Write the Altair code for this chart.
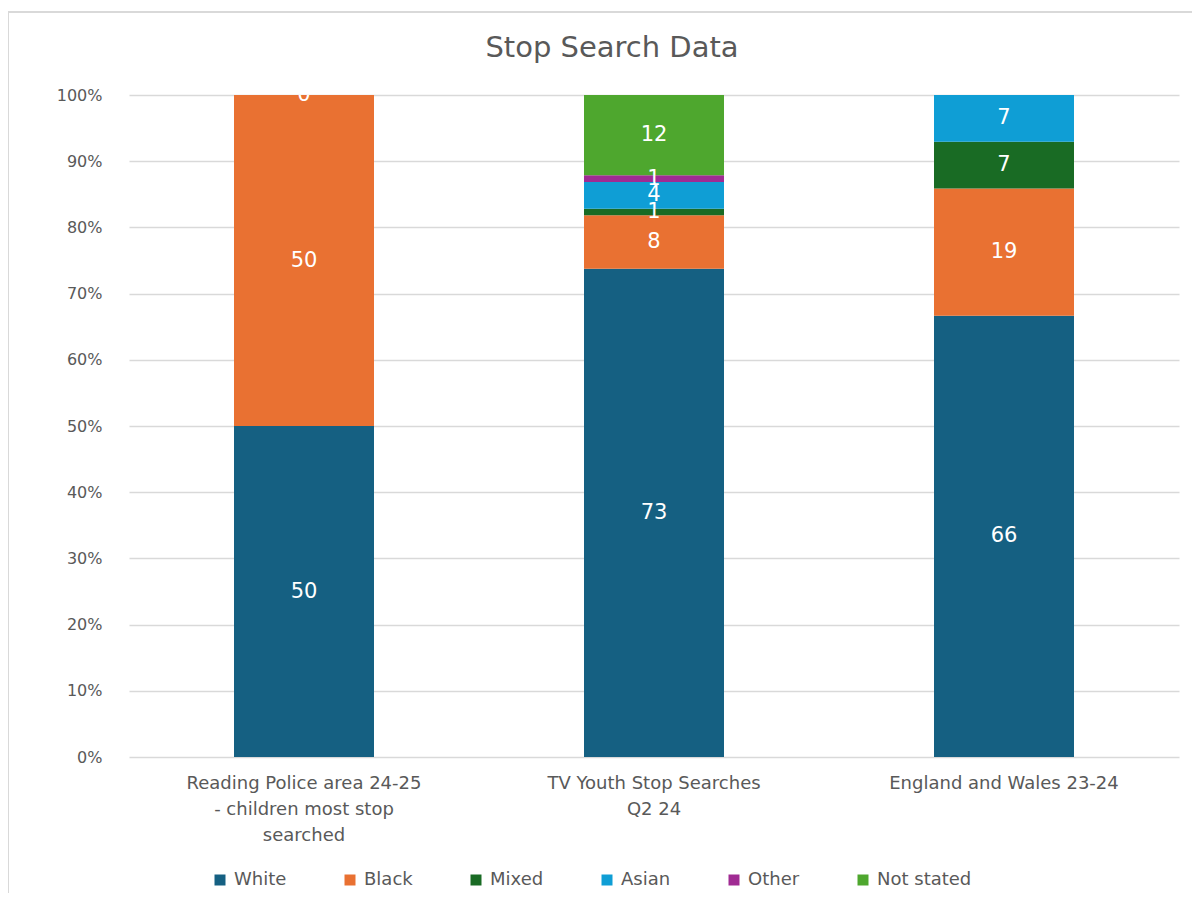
import altair as alt
import pandas as pd

FONT = "DejaVu Sans"
GREY = "#595959"

categories = [
    "Reading Police area 24-25 - children most stop searched",
    "TV Youth Stop Searches Q2 24",
    "England and Wales 23-24",
]
category_lines = [
    ["Reading Police area 24-25", "- children most stop", "searched"],
    ["TV Youth Stop Searches", "Q2 24"],
    ["England and Wales 23-24"],
]
series = ["White", "Black", "Mixed", "Asian", "Other", "Not stated"]
colors = ["#156082", "#E97132", "#196B24", "#0F9ED5", "#A02B93", "#4EA72E"]

white = [50, 73, 66]
black = [50, 8, 19]
mixed = [None, 1, 7]
asian = [None, 4, 7]
other = [None, 1, None]
not_stated = [0, 12, None]

values = [white, black, mixed, asian, other, not_stated]
rows = []
for si, (s, vals) in enumerate(zip(series, values)):
    for c, v in zip(categories, vals):
        if v is not None:
            rows.append({"category": c, "series": s, "order": si, "value": v})
df = pd.DataFrame(rows)

label_expr = " : ".join(
    f"datum.value == {c!r} ? {lines!r}" for c, lines in zip(categories, category_lines)
) + " : datum.value"

x_enc = alt.X(
    "category:N",
    sort=categories,
    scale=alt.Scale(paddingInner=0.6, paddingOuter=0.3),
    axis=alt.Axis(
        title=None, labelAngle=0, labelExpr=label_expr, domain=False, ticks=False,
        labelFont=FONT, labelFontSize=18, labelColor=GREY, labelPadding=17,
        labelLineHeight=26, labelLimit=0,
    ),
)

bars = alt.Chart(df).mark_bar().encode(
    x=x_enc,
    y=alt.Y(
        "value:Q", stack="normalize",
        scale=alt.Scale(domain=[0, 1]),
        axis=alt.Axis(
            title=None, format=".0%", values=[i / 10 for i in range(11)],
            domain=False, ticks=False, grid=True, gridColor="#d9d9d9", gridWidth=1.3,
            labelFont=FONT, labelFontSize=16, labelColor=GREY, labelPadding=27,
        ),
    ),
    color=alt.Color(
        "series:N", sort=series,
        scale=alt.Scale(domain=series, range=colors),
        legend=alt.Legend(
            title=None, orient="none", direction="horizontal", legendX=82, legendY=776,
            symbolType="square", symbolSize=121, symbolStrokeWidth=0,
            labelFont=FONT, labelFontSize=18, labelColor=GREY, columnPadding=54,
            labelOffset=5,
        ),
    ),
    order=alt.Order("order:Q"),
)

labels = alt.Chart(df).transform_joinaggregate(
    total="sum(value)", groupby=["category"]
).transform_window(
    cum="sum(value)", groupby=["category"], sort=[alt.SortField("order")], frame=[None, 0]
).transform_calculate(
    mid="(datum.cum - datum.value / 2) / datum.total"
).mark_text(
    color="white", font=FONT, fontSize=21, baseline="middle", align="center", clip=True
).encode(
    x=alt.X("category:N", sort=categories),
    y=alt.Y("mid:Q"),
    text=alt.Text("value:Q"),
)

one = pd.DataFrame({"k": [0]})
border_top = alt.Chart(one).mark_rule(color="#d9d9d9", strokeWidth=2).encode(
    x=alt.value(-121), x2=alt.value(1080), y=alt.value(-83)
)
border_left = alt.Chart(one).mark_rule(color="#d9d9d9", strokeWidth=2).encode(
    x=alt.value(-121), y=alt.value(-83), y2=alt.value(820)
)

chart = alt.layer(bars, labels, border_top, border_left).properties(
    width=1050,
    height=662,
    autosize=alt.AutoSizeParams(type="none"),
    padding={"left": 121, "top": 87, "right": 13, "bottom": 136},
    title=alt.TitleParams(
        "Stop Search Data", anchor="middle", frame="group", dx=-42, dy=56,
        fontSize=29, color=GREY, fontWeight="normal", font=FONT,
    ),
).configure_view(stroke=None)

chart.save("out.html", embed_options={"renderer": "svg", "actions": False})
